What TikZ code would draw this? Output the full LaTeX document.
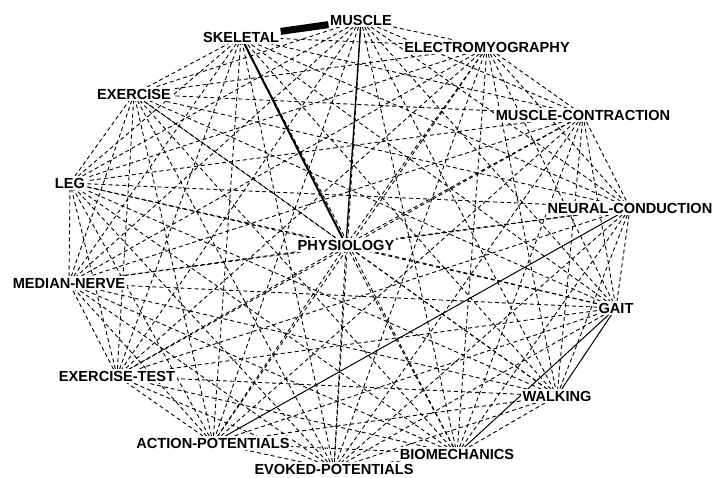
\documentclass[tikz,border=0pt]{standalone}
\usepackage{fontspec}
\setsansfont{Liberation Sans}
\pgfdeclarelayer{links}
\pgfsetlayers{links,main}
\begin{document}
\begin{tikzpicture}[x=1pt,y=-1pt,
  term/.style={font=\sffamily\bfseries\fontsize{14.6}{16}\selectfont, inner sep=1.5pt, anchor=center, fill=white},
  dashedge/.style={draw=black, line width=0.9pt, dash pattern=on 4pt off 3pt},
  linkedge/.style={draw=black, line width=1pt},
  heavyedge/.style={draw=black, line width=7pt},
  midedge/.style={draw=black, line width=2pt}]
\useasboundingbox (0,0) rectangle (715,477);

% keyword nodes around the ring and the hub in the middle
\node[term] (mu) at (361,20)  {MUSCLE};
\node[term] (em) at (487,47)  {ELECTROMYOGRAPHY};
\node[term] (mc) at (583,115) {MUSCLE-CONTRACTION};
\node[term] (nc) at (630,208) {NEURAL-CONDUCTION};
\node[term] (ga) at (616,308) {GAIT};
\node[term] (wa) at (557,396) {WALKING};
\node[term] (bi) at (457,454) {BIOMECHANICS};
\node[term] (ep) at (334,469) {EVOKED-POTENTIALS};
\node[term] (ap) at (213,443) {ACTION-POTENTIALS};
\node[term] (et) at (117,376) {EXERCISE-TEST};
\node[term] (mn) at (69,283)  {MEDIAN-NERVE};
\node[term] (le) at (70,183)  {LEG};
\node[term] (ex) at (134,94)  {EXERCISE};
\node[term] (sk) at (241,37)  {SKELETAL};
\node[term] (ph) at (346,245) {PHYSIOLOGY};

\begin{pgfonlayer}{links}
\fill[white] (0,0) rectangle (715,477);

% weak co-occurrence links
\foreach \a/\l in {
  mu/{em,mc,nc,ga,wa,bi,ep,ap,et,mn,le,ex},
  em/{mc,nc,ga,wa,bi,ep,ap,et,mn,le,ex,sk,ph},
  mc/{nc,ga,wa,bi,ep,ap,et,mn,le,ex,sk,ph},
  nc/{ga,wa,bi,ep,et,mn,le,ex,sk,ph},
  ga/{ep,ap,et,mn,le,ex,sk,ph},
  wa/{bi,ep,ap,et,mn,le,ex,sk,ph},
  bi/{ep,ap,et,mn,le,ex,sk,ph},
  ep/{ap,et,mn,le,ex,sk,ph},
  ap/{et,mn,le,ex,sk,ph},
  et/{mn,le,ex,sk,ph},
  mn/{le,ex,sk,ph},
  le/{ex,sk,ph},
  ex/{sk,ph}}
  {\foreach \b in \l {\draw[dashedge] (\a) -- (\b);}}

% strong links
\draw[heavyedge] (sk) -- (mu);
\draw[midedge] (sk) -- (ph);
\draw[linkedge, line width=1.3pt] (mu) -- (ph);
\draw[linkedge] (nc) -- (ap);
\draw[linkedge] (ga) -- (wa);
\draw[linkedge] (ga) -- (bi);
\end{pgfonlayer}
\end{tikzpicture}
\end{document}
